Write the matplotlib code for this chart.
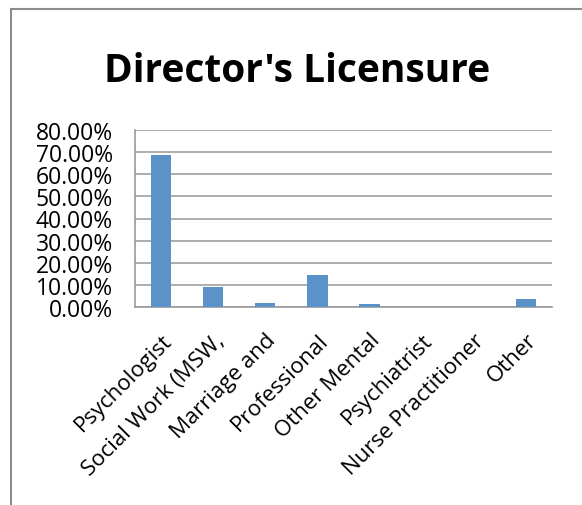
import numpy as np
import matplotlib.pyplot as plt
from matplotlib.patches import Rectangle
from matplotlib.ticker import PercentFormatter

categories = ['Psychologist', 'Social Work (MSW,', 'Marriage and', 'Professional',
              'Other Mental', 'Psychiatrist', 'Nurse Practitioner', 'Other']
values = [0.688, 0.091, 0.018, 0.145, 0.012, 0.0, 0.0, 0.035]

plt.rcParams['font.family'] = ['Open Sans', 'DejaVu Sans']

W, H = 582, 506
fig = plt.figure(figsize=(W / 100, H / 100), dpi=100)

# outer chart frame (only left/top visible in the crop)
fig.patches.append(Rectangle((11 / W, -0.1), 1.2, 1 - 10 / H + 0.1,
                             transform=fig.transFigure, fill=False,
                             edgecolor='#8c8c8c', lw=1.5))

ax = fig.add_axes([135 / W, 1 - 308 / H, (552 - 135) / W, (308 - 131) / H])
x = np.arange(len(categories))
ax.bar(x, values, width=0.39, color='#5b93c8', zorder=3)

ax.set_xlim(-0.5, len(categories) - 0.5)
ax.set_ylim(0, 0.8)
ax.set_yticks(np.arange(0, 0.81, 0.1))
ax.yaxis.set_major_formatter(PercentFormatter(1.0, decimals=2))
ax.grid(axis='y', color='#a0a0a0', lw=1.2, zorder=0)
ax.tick_params(axis='y', length=0, labelsize=16.5, pad=16)
ax.tick_params(axis='x', length=0, labelsize=16, pad=16)

ax.set_xticks(x)
ax.set_xticklabels(categories, rotation=45, ha='right', rotation_mode='anchor')

for s in ['top', 'right']:
    ax.spines[s].set_visible(False)
for s in ['left', 'bottom']:
    ax.spines[s].set_color('#9a9a9a')
    ax.spines[s].set_linewidth(1.2)

fig.text(297 / W, 1 - 71 / H, "Director's Licensure", ha='center', va='center',
         fontsize=28, fontweight='bold')

fig.savefig('out.png', dpi=100)
